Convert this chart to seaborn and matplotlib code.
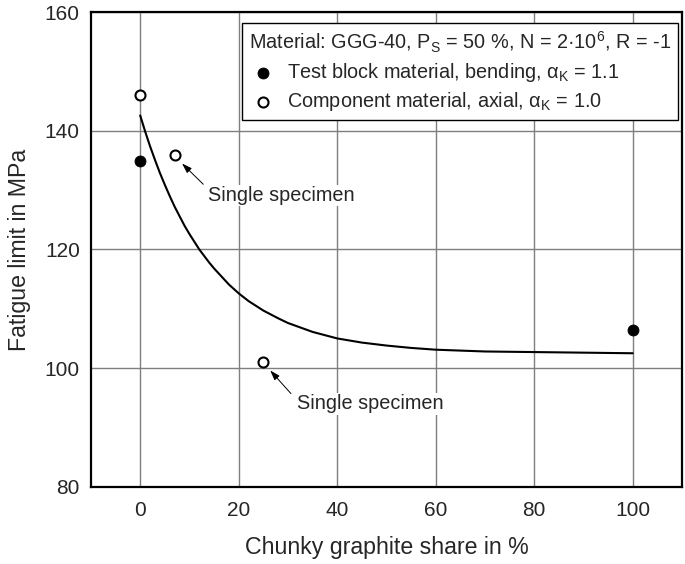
import matplotlib
matplotlib.use("Agg")
import matplotlib.pyplot as plt
import seaborn as sns
from matplotlib.ticker import MultipleLocator

# test block material (bending), filled markers
block_share = [0, 100]
block_limit = [135, 106.5]

# component material (axial), open markers
comp_share = [0, 7, 25]
comp_limit = [146, 136, 101]

# trend curve
curve_share = [0, 1, 2, 3, 4, 5, 6, 7, 8, 9, 10, 11, 12, 13, 14, 15, 16, 18,
               20, 22, 25, 28, 30, 35, 40, 45, 50, 55, 60, 70, 80, 90, 100]
curve_limit = [142.6, 139.9, 137.4, 135.1, 132.9, 130.9, 129.0, 127.2, 125.6,
               124.0, 122.6, 121.3, 120.0, 118.9, 117.8, 116.8, 115.9, 114.1,
               112.6, 111.3, 109.7, 108.4, 107.6, 106.1, 105.0, 104.3, 103.8,
               103.4, 103.1, 102.8, 102.7, 102.6, 102.5]

block_label = "Test block material, bending, α$_\\mathregular{K}$ = 1.1"
comp_label = "Component material, axial, α$_\\mathregular{K}$ = 1.0"
legend_title = ("Material: GGG-40, P$_\\mathregular{S}$ = 50 %, "
                "N = 2·10$^\\mathregular{6}$, R = -1")

sns.set_style("white")
plt.rcParams['font.family'] = ['Liberation Sans', 'DejaVu Sans']
plt.rcParams['mathtext.fontset'] = 'custom'
plt.rcParams['mathtext.rm'] = 'Liberation Sans'
plt.rcParams['mathtext.it'] = 'Liberation Sans:italic'
plt.rcParams['mathtext.bf'] = 'Liberation Sans:bold'
plt.rcParams['mathtext.sf'] = 'Liberation Sans'

fig = plt.figure(figsize=(6.85, 5.64), dpi=100)
ax = fig.add_axes([0.1328, 0.1371, 0.8628, 0.8411])

sns.lineplot(x=curve_share, y=curve_limit, ax=ax, color='black', lw=1.5,
             errorbar=None, legend=False, zorder=3)
sns.scatterplot(x=block_share, y=block_limit, ax=ax, color='black',
                edgecolor='black', s=62, label=block_label, zorder=4)
sns.scatterplot(x=comp_share, y=comp_limit, ax=ax, color='white',
                edgecolor='black', linewidth=1.5, s=52, label=comp_label,
                zorder=4)

ax.set_xlim(-10, 110)
ax.set_ylim(80, 160)
ax.xaxis.set_major_locator(MultipleLocator(20))
ax.xaxis.set_minor_locator(MultipleLocator(10))
ax.yaxis.set_major_locator(MultipleLocator(20))
ax.yaxis.set_minor_locator(MultipleLocator(10))
ax.tick_params(which='both', direction='in', length=5, width=1.2,
               color='black', labelsize=15, top=False, right=False)
ax.tick_params(axis='x', which='major', pad=10)
ax.tick_params(axis='y', which='major', pad=8)
ax.grid(True, which='major', color='#7f7f7f', lw=1)
ax.set_axisbelow(True)
for sp in ax.spines.values():
    sp.set_color('black')
    sp.set_linewidth(1.6)

ax.set_xlabel('Chunky graphite share in %', fontsize=16.7, labelpad=12)
ax.set_ylabel('Fatigue limit in MPa', fontsize=16.7, labelpad=10)

# single specimen notes
ax.annotate('', xy=(8.5, 134.5), xytext=(12.8, 131.0),
            arrowprops=dict(arrowstyle='-|>,head_length=0.6,head_width=0.2',
                            color='black', lw=0.7, shrinkA=0, shrinkB=0))
ax.text(13.8, 129.1, 'Single specimen', ha='left', va='center', fontsize=14.3,
        bbox=dict(facecolor='white', edgecolor='none', pad=1), zorder=3)
ax.annotate('', xy=(26.4, 99.6), xytext=(30.6, 95.7),
            arrowprops=dict(arrowstyle='-|>,head_length=0.6,head_width=0.2',
                            color='black', lw=0.7, shrinkA=0, shrinkB=0))
ax.text(31.8, 94.0, 'Single specimen', ha='left', va='center', fontsize=14.3,
        bbox=dict(facecolor='white', edgecolor='none', pad=1), zorder=3)

leg = ax.legend(title=legend_title, loc='upper right',
                bbox_to_anchor=(0.993, 0.977), borderaxespad=0,
                fontsize=14.3, title_fontsize=14.3, frameon=True,
                fancybox=False, edgecolor='black', framealpha=1,
                borderpad=0.35, labelspacing=0.3, handlelength=1.4,
                handletextpad=0.55, alignment='left')
leg.get_frame().set_linewidth(1.0)
leg.set_zorder(5)

fig.savefig('out.png', dpi=100)
